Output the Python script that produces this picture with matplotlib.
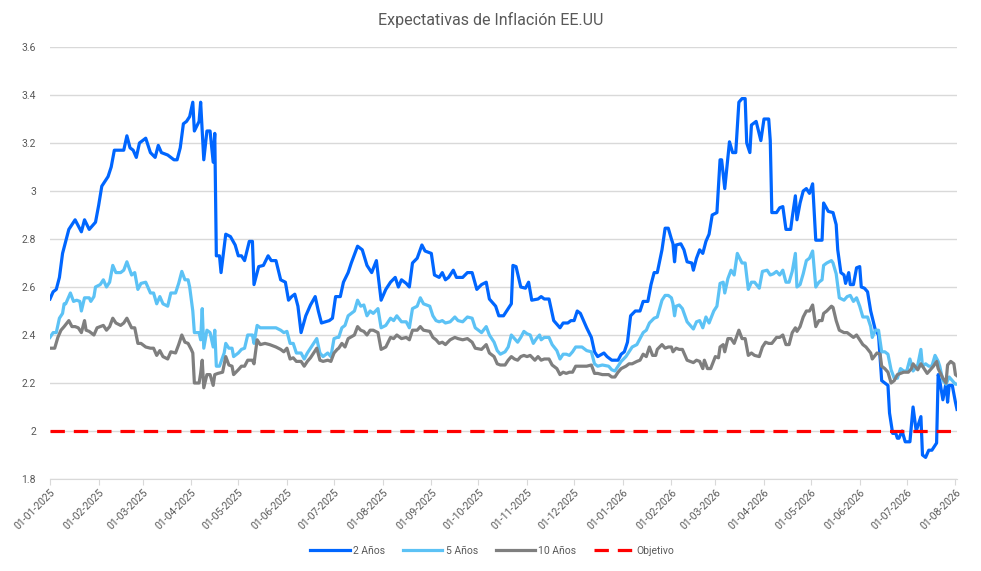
import matplotlib
matplotlib.use("Agg")
import matplotlib.pyplot as plt
import matplotlib.dates as mdates
import pandas as pd

# days since 2025-01-01 and value, one pair of lists per series
dias_2a = [0, 2, 4, 6, 8, 12, 16, 20, 22, 25, 29, 31, 33, 37, 39, 41, 47, 49, 51, 53, 55, 57, 61, 64, 67, 69, 71, 75, 79, 81,
           83, 85, 87, 89, 91, 92, 95, 96, 98, 100, 102, 104, 105, 106, 108, 109, 112, 115, 118, 120, 122, 124, 127, 129, 130,
           133, 136, 139, 141, 144, 147, 150, 152, 154, 156, 158, 160, 163, 166, 169, 171, 173, 178, 180, 182, 185, 187, 190,
           192, 196, 199, 202, 205, 208, 211, 214, 217, 220, 222, 224, 227, 229, 231, 234, 237, 239, 243, 245, 248, 250, 252,
           254, 257, 259, 263, 266, 269, 272, 275, 278, 280, 284, 286, 289, 291, 294, 295, 297, 300, 303, 305, 307, 311, 313,
           315, 318, 321, 325, 327, 330, 332, 334, 336, 338, 342, 345, 347, 349, 353, 355, 358, 362, 364, 366, 368, 370, 373,
           376, 378, 381, 383, 385, 387, 390, 392, 394, 396, 397, 398, 399, 402, 404, 406, 409, 410, 412, 414, 416, 418, 420,
           422, 425, 427, 428, 430, 431, 433, 435, 437, 439, 441, 443, 444, 446, 447, 450, 453, 455, 458, 459, 460, 463, 465,
           467, 469, 472, 473, 475, 476, 478, 480, 482, 484, 486, 488, 492, 493, 496, 499, 501, 502, 504, 506, 507, 509, 510,
           512, 514, 516, 517, 519, 521, 523, 526, 528, 530, 534, 535, 537, 539, 540, 541, 543, 545, 548, 550, 552, 555, 556,
           558, 560, 562, 565, 566, 567, 569, 571, 572, 573, 575, 577, 578]
val_2a = [2.55, 2.58, 2.59, 2.64, 2.74, 2.84, 2.88, 2.83, 2.88, 2.84, 2.87, 2.94, 3.02, 3.06, 3.10, 3.17, 3.17, 3.23, 3.18,
          3.17, 3.14, 3.20, 3.22, 3.16, 3.14, 3.19, 3.16, 3.15, 3.13, 3.13, 3.18, 3.28, 3.29, 3.31, 3.37, 3.25, 3.29, 3.37,
          3.13, 3.25, 3.25, 3.12, 3.24, 2.73, 2.73, 2.66, 2.82, 2.81, 2.775, 2.73, 2.73, 2.71, 2.79, 2.79, 2.61, 2.685, 2.69,
          2.73, 2.71, 2.71, 2.63, 2.62, 2.545, 2.56, 2.57, 2.52, 2.41, 2.48, 2.525, 2.56, 2.50, 2.45, 2.46, 2.47, 2.56, 2.56,
          2.62, 2.66, 2.70, 2.77, 2.755, 2.69, 2.66, 2.71, 2.545, 2.59, 2.62, 2.64, 2.60, 2.63, 2.615, 2.60, 2.70, 2.72,
          2.775, 2.75, 2.74, 2.65, 2.64, 2.66, 2.63, 2.64, 2.67, 2.64, 2.64, 2.66, 2.66, 2.59, 2.61, 2.62, 2.55, 2.52, 2.48,
          2.48, 2.50, 2.53, 2.69, 2.685, 2.60, 2.595, 2.62, 2.545, 2.55, 2.56, 2.55, 2.55, 2.46, 2.43, 2.45, 2.45, 2.46,
          2.46, 2.50, 2.49, 2.43, 2.39, 2.33, 2.31, 2.325, 2.31, 2.295, 2.295, 2.32, 2.33, 2.37, 2.48, 2.50, 2.50, 2.54,
          2.54, 2.61, 2.66, 2.66, 2.755, 2.845, 2.845, 2.80, 2.78, 2.705, 2.775, 2.78, 2.755, 2.705, 2.70, 2.67, 2.72, 2.755,
          2.74, 2.79, 2.82, 2.90, 2.91, 3.13, 3.13, 3.01, 3.075, 3.205, 3.16, 3.16, 3.37, 3.385, 3.385, 3.20, 3.16, 3.275,
          3.29, 3.21, 3.30, 3.30, 3.21, 2.91, 2.91, 2.93, 2.935, 2.84, 2.84, 2.89, 2.98, 2.88, 2.95, 3.00, 3.01, 2.99, 3.03,
          2.795, 2.795, 2.95, 2.915, 2.91, 2.86, 2.755, 2.66, 2.65, 2.615, 2.66, 2.61, 2.61, 2.68, 2.685, 2.60, 2.595, 2.58,
          2.50, 2.42, 2.40, 2.21, 2.19, 2.075, 1.99, 1.99, 1.97, 1.97, 2.00, 1.955, 1.955, 2.10, 2.00, 2.06, 1.90, 1.89,
          1.92, 1.92, 1.95, 2.235, 2.21, 2.13, 2.20, 2.12, 2.19, 2.19, 2.12, 2.09]

dias_5a = [0, 2, 4, 6, 8, 9, 10, 13, 15, 17, 19, 20, 22, 25, 26, 28, 29, 32, 34, 36, 38, 40, 42, 45, 47, 49, 52, 54, 56, 58,
           61, 64, 66, 68, 70, 72, 75, 77, 80, 82, 84, 86, 88, 89, 91, 92, 95, 96, 97, 98, 100, 102, 104, 105, 106, 108, 111,
           112, 114, 116, 117, 120, 122, 124, 126, 129, 130, 132, 134, 137, 140, 144, 147, 149, 151, 153, 155, 157, 160, 162,
           164, 166, 168, 170, 172, 174, 177, 179, 181, 183, 184, 186, 188, 190, 194, 196, 198, 200, 202, 204, 206, 209, 211,
           214, 217, 219, 221, 224, 227, 229, 231, 234, 236, 238, 242, 244, 246, 248, 250, 252, 255, 258, 260, 263, 266, 269,
           271, 275, 278, 280, 283, 285, 287, 290, 292, 294, 296, 298, 300, 302, 304, 306, 308, 310, 312, 313, 315, 318, 320,
           323, 325, 327, 329, 331, 333, 335, 339, 342, 345, 347, 349, 352, 356, 358, 360, 362, 364, 367, 369, 371, 374, 376,
           378, 380, 382, 385, 387, 390, 392, 394, 396, 397, 398, 399, 401, 403, 406, 408, 410, 412, 414, 416, 418, 420, 423,
           425, 427, 429, 430, 432, 434, 436, 438, 441, 443, 445, 447, 449, 452, 454, 457, 459, 461, 463, 465, 467, 469, 471,
           473, 475, 476, 478, 480, 482, 484, 486, 488, 490, 492, 493, 495, 498, 499, 501, 503, 506, 508, 510, 512, 514, 516,
           518, 521, 523, 524, 526, 528, 530, 532, 534, 536, 538, 540, 542, 544, 546, 548, 550, 553, 555, 556, 558, 560, 562,
           564, 566, 567, 569, 571, 573, 575, 577, 578]
val_5a = [2.39, 2.41, 2.41, 2.47, 2.49, 2.53, 2.53, 2.575, 2.54, 2.545, 2.54, 2.50, 2.555, 2.555, 2.54, 2.56, 2.60, 2.61,
          2.63, 2.60, 2.62, 2.69, 2.66, 2.66, 2.67, 2.705, 2.65, 2.66, 2.59, 2.615, 2.62, 2.575, 2.575, 2.53, 2.56, 2.53,
          2.52, 2.575, 2.575, 2.615, 2.665, 2.63, 2.63, 2.60, 2.50, 2.41, 2.41, 2.38, 2.51, 2.345, 2.42, 2.41, 2.35, 2.42,
          2.27, 2.27, 2.325, 2.365, 2.345, 2.345, 2.31, 2.325, 2.34, 2.345, 2.40, 2.40, 2.365, 2.44, 2.43, 2.43, 2.43, 2.43,
          2.42, 2.41, 2.415, 2.365, 2.365, 2.325, 2.325, 2.30, 2.325, 2.345, 2.365, 2.385, 2.325, 2.31, 2.325, 2.31, 2.385,
          2.39, 2.39, 2.43, 2.44, 2.48, 2.50, 2.545, 2.52, 2.525, 2.48, 2.50, 2.49, 2.51, 2.43, 2.44, 2.47, 2.46, 2.48,
          2.455, 2.455, 2.43, 2.51, 2.52, 2.555, 2.53, 2.52, 2.48, 2.46, 2.455, 2.46, 2.45, 2.455, 2.475, 2.46, 2.455, 2.475,
          2.47, 2.43, 2.41, 2.435, 2.40, 2.37, 2.335, 2.32, 2.33, 2.35, 2.40, 2.385, 2.37, 2.39, 2.415, 2.405, 2.40, 2.365,
          2.385, 2.40, 2.38, 2.39, 2.39, 2.36, 2.335, 2.30, 2.32, 2.32, 2.315, 2.33, 2.35, 2.35, 2.335, 2.33, 2.28, 2.27,
          2.275, 2.27, 2.255, 2.25, 2.27, 2.29, 2.31, 2.33, 2.35, 2.36, 2.385, 2.41, 2.42, 2.45, 2.47, 2.475, 2.545, 2.565,
          2.565, 2.555, 2.53, 2.48, 2.52, 2.525, 2.51, 2.455, 2.44, 2.425, 2.455, 2.46, 2.43, 2.475, 2.45, 2.50, 2.52, 2.615,
          2.62, 2.575, 2.635, 2.67, 2.65, 2.74, 2.70, 2.70, 2.59, 2.62, 2.62, 2.595, 2.665, 2.67, 2.65, 2.655, 2.665, 2.65,
          2.67, 2.62, 2.62, 2.665, 2.74, 2.60, 2.61, 2.655, 2.71, 2.72, 2.75, 2.60, 2.62, 2.63, 2.69, 2.70, 2.71, 2.70,
          2.655, 2.555, 2.545, 2.56, 2.565, 2.54, 2.555, 2.52, 2.475, 2.475, 2.435, 2.39, 2.42, 2.42, 2.33, 2.33, 2.32,
          2.255, 2.22, 2.22, 2.26, 2.25, 2.25, 2.30, 2.25, 2.275, 2.34, 2.27, 2.28, 2.27, 2.27, 2.315, 2.29, 2.27, 2.21,
          2.195, 2.225, 2.21, 2.195, 2.195]

dias_10a = [0, 3, 5, 7, 9, 12, 14, 16, 18, 20, 22, 23, 25, 28, 30, 32, 34, 36, 38, 40, 42, 45, 47, 49, 52, 54, 56, 58, 61, 64,
            66, 68, 70, 72, 75, 77, 80, 82, 84, 86, 88, 90, 91, 92, 95, 96, 97, 98, 100, 102, 104, 105, 107, 110, 112, 114,
            116, 117, 120, 122, 124, 126, 129, 130, 132, 134, 137, 140, 144, 147, 149, 151, 153, 155, 157, 160, 162, 164, 166,
            168, 170, 172, 174, 177, 179, 181, 183, 184, 186, 188, 190, 194, 196, 198, 200, 202, 204, 206, 209, 211, 214, 217,
            219, 221, 224, 227, 229, 231, 234, 236, 238, 242, 244, 246, 248, 250, 252, 255, 258, 260, 263, 266, 269, 271, 275,
            278, 280, 283, 285, 287, 290, 292, 294, 296, 298, 300, 302, 304, 306, 309, 311, 313, 315, 318, 320, 323, 325, 327,
            329, 331, 333, 335, 339, 342, 345, 347, 349, 352, 356, 358, 360, 362, 364, 367, 369, 371, 374, 376, 378, 380, 382,
            384, 386, 387, 390, 392, 394, 396, 397, 399, 401, 403, 406, 408, 410, 412, 414, 416, 417, 419, 421, 424, 426, 427,
            429, 430, 432, 434, 436, 439, 441, 443, 445, 447, 449, 452, 454, 456, 458, 460, 463, 465, 467, 469, 471, 473, 475,
            476, 478, 480, 482, 484, 486, 488, 490, 492, 493, 495, 498, 499, 501, 503, 506, 508, 510, 512, 514, 516, 518, 520,
            523, 524, 527, 529, 530, 532, 534, 536, 538, 540, 542, 544, 547, 549, 550, 553, 555, 557, 559, 561, 563, 565, 566,
            569, 571, 572, 574, 576, 577, 578]
val_10a = [2.345, 2.345, 2.39, 2.42, 2.435, 2.46, 2.435, 2.435, 2.43, 2.41, 2.46, 2.42, 2.415, 2.40, 2.43, 2.435, 2.44,
           2.42, 2.435, 2.47, 2.45, 2.44, 2.45, 2.47, 2.43, 2.43, 2.365, 2.365, 2.35, 2.345, 2.345, 2.315, 2.335, 2.31, 2.30,
           2.33, 2.325, 2.36, 2.40, 2.37, 2.365, 2.34, 2.325, 2.20, 2.20, 2.24, 2.295, 2.18, 2.235, 2.235, 2.19, 2.235, 2.24,
           2.245, 2.31, 2.275, 2.27, 2.235, 2.255, 2.27, 2.27, 2.295, 2.295, 2.28, 2.38, 2.36, 2.365, 2.36, 2.35, 2.34, 2.33,
           2.345, 2.30, 2.305, 2.29, 2.29, 2.27, 2.29, 2.305, 2.325, 2.345, 2.295, 2.29, 2.295, 2.29, 2.325, 2.34, 2.345,
           2.365, 2.35, 2.385, 2.40, 2.435, 2.42, 2.415, 2.40, 2.42, 2.42, 2.41, 2.34, 2.35, 2.39, 2.385, 2.40, 2.385, 2.39,
           2.38, 2.42, 2.42, 2.435, 2.42, 2.415, 2.39, 2.38, 2.365, 2.37, 2.36, 2.38, 2.39, 2.385, 2.38, 2.385, 2.37, 2.345,
           2.34, 2.36, 2.325, 2.31, 2.28, 2.275, 2.275, 2.295, 2.31, 2.30, 2.295, 2.31, 2.315, 2.31, 2.315, 2.295, 2.31,
           2.295, 2.30, 2.30, 2.275, 2.26, 2.235, 2.245, 2.24, 2.245, 2.245, 2.27, 2.27, 2.27, 2.275, 2.24, 2.24, 2.235,
           2.235, 2.225, 2.225, 2.245, 2.26, 2.27, 2.28, 2.28, 2.29, 2.295, 2.32, 2.31, 2.35, 2.315, 2.315, 2.34, 2.36, 2.345,
           2.35, 2.35, 2.33, 2.345, 2.34, 2.34, 2.295, 2.29, 2.285, 2.295, 2.29, 2.26, 2.295, 2.26, 2.26, 2.31, 2.305, 2.35,
           2.36, 2.33, 2.385, 2.385, 2.365, 2.42, 2.385, 2.385, 2.315, 2.325, 2.315, 2.31, 2.35, 2.37, 2.365, 2.365, 2.39,
           2.39, 2.40, 2.36, 2.36, 2.41, 2.43, 2.415, 2.435, 2.475, 2.50, 2.50, 2.525, 2.435, 2.46, 2.46, 2.49, 2.50, 2.52,
           2.515, 2.46, 2.42, 2.41, 2.41, 2.40, 2.39, 2.40, 2.38, 2.36, 2.35, 2.325, 2.30, 2.325, 2.32, 2.27, 2.26, 2.245,
           2.20, 2.21, 2.235, 2.24, 2.245, 2.245, 2.26, 2.28, 2.255, 2.28, 2.26, 2.24, 2.255, 2.27, 2.29, 2.26, 2.22, 2.20,
           2.275, 2.29, 2.28, 2.235, 2.23]

objetivo = 2.0
inicio = pd.Timestamp("2025-01-01")
fin = pd.Timestamp("2026-08-02")

series = [
    ("2 Años", dias_2a, val_2a, "#0066FF"),
    ("5 Años", dias_5a, val_5a, "#5CC2F5"),
    ("10 Años", dias_10a, val_10a, "#7F7F7F"),
]

plt.rcParams["font.family"] = ["Roboto", "DejaVu Sans"]
gris_txt = "#595959"

fig = plt.figure(figsize=(9.81, 5.71), dpi=100)
ax = fig.add_axes([50 / 981, 92 / 571, 907 / 981, 432 / 571])

for i, (nombre, dias, vals, color) in enumerate(series):
    fechas = inicio + pd.to_timedelta(dias, unit="D")
    ax.plot(fechas, vals, color=color, lw=2.3, label=nombre, zorder=3 + i,
            solid_joinstyle="round")
ax.plot([inicio, fin], [objetivo, objetivo], color="#FF0000", lw=2.3,
        dashes=(4.5, 2.8), label="Objetivo", zorder=7)

ax.set_xlim(inicio, fin)
ax.set_ylim(1.8, 3.6)
ax.set_yticks([1.8, 2.0, 2.2, 2.4, 2.6, 2.8, 3.0, 3.2, 3.4, 3.6])
ax.yaxis.set_major_formatter(plt.FuncFormatter(lambda v, p: f"{v:g}"))
ax.grid(axis="y", color="#D9D9D9", lw=1)
ax.set_axisbelow(True)

ax.xaxis.set_major_locator(mdates.MonthLocator(bymonthday=1))
ax.xaxis.set_major_formatter(mdates.DateFormatter("%d-%m-%Y"))
for lab in ax.get_xticklabels():
    lab.set_rotation(45)
    lab.set_ha("right")
    lab.set_rotation_mode("anchor")

for s in ["top", "right", "left"]:
    ax.spines[s].set_visible(False)
ax.spines["bottom"].set_color("#D9D9D9")
ax.tick_params(axis="y", length=0, pad=10, labelsize=7.5, labelcolor=gris_txt)
ax.tick_params(axis="x", length=4, color="#D9D9D9", pad=2, labelsize=7.5, labelcolor=gris_txt)

fig.text(0.5, 0.965, "Expectativas de Inflación EE.UU", ha="center", va="center",
         fontsize=11.5, color=gris_txt)
fig.legend(loc="center", bbox_to_anchor=(0.502, 0.035), ncol=4, frameon=False,
           fontsize=7.5, handlelength=3.8, handletextpad=0.3, columnspacing=1.7,
           labelcolor=gris_txt)

fig.savefig("out.png", dpi=100)
